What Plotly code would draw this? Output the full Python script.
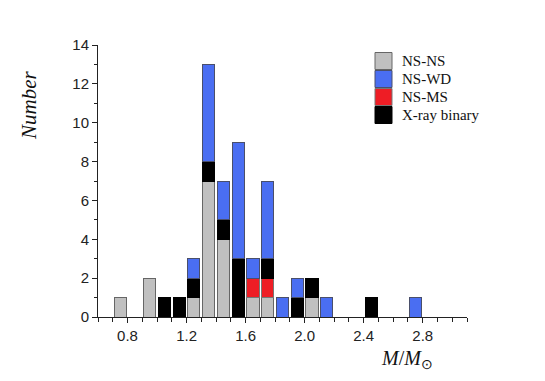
import plotly.graph_objects as go

# bin centres (M/Msun) and counts per class
bin_centers = [0.75, 0.95, 1.05, 1.15, 1.25, 1.35, 1.45, 1.55, 1.65, 1.75,
               1.85, 1.95, 2.05, 2.15, 2.45, 2.75]
ns_ns = [1, 2, 0, 0, 1, 7, 4, 0, 1, 1, 0, 0, 1, 0, 0, 0]
ns_ms = [0, 0, 0, 0, 0, 0, 0, 0, 1, 1, 0, 0, 0, 0, 0, 0]
xray = [0, 0, 1, 1, 1, 1, 1, 3, 0, 1, 0, 1, 1, 0, 1, 0]
ns_wd = [0, 0, 0, 0, 1, 5, 2, 6, 1, 4, 1, 1, 0, 1, 0, 1]

legend_labels = ['NS-NS', 'NS-WD', 'NS-MS', 'X-ray binary']

colors = {
    'NS-NS': '#c0c0c0',
    'NS-WD': '#4a6ef2',
    'NS-MS': '#ee1d25',
    'X-ray binary': '#000000',
}
outline = {
    'NS-NS': '#666666',
    'NS-WD': '#4a4f6a',
    'NS-MS': '#777777',
    'X-ray binary': '#000000',
}

# page body adds ~8px offset, so plot area is placed in window pixels
OFF = 8
W, H = 545, 381
X0, X1, Y0, Y1 = 98, 467, 45, 317  # plot area in window pixels
L, T = X0 - OFF, Y0 - OFF
R, B = W - X1 + OFF, H - Y1 + OFF


def px(x):
    return (x - X0) / (X1 - X0)


def py(y):
    return (Y1 - y) / (Y1 - Y0)


fig = go.Figure()

# stacking order bottom -> top: gray, red, black, blue
for name, vals in [('NS-NS', ns_ns), ('NS-MS', ns_ms),
                   ('X-ray binary', xray), ('NS-WD', ns_wd)]:
    fig.add_trace(go.Bar(
        x=bin_centers,
        y=[v if v else None for v in vals],
        width=0.082,
        name=name,
        marker=dict(color=colors[name], line=dict(color=outline[name], width=1)),
        showlegend=False,
    ))

# hand-made legend (larger square swatches than plotly's default)
shapes = []
annotations = []
for i, name in enumerate(legend_labels):
    yc = 61 + i * 18
    shapes.append(dict(
        type='rect', xref='paper', yref='paper',
        x0=px(375), x1=px(392), y0=py(yc + 8.5), y1=py(yc - 8.5),
        fillcolor=colors[name], line=dict(color=outline[name], width=1),
    ))
    annotations.append(dict(
        text=name, xref='paper', yref='paper', x=px(400), y=py(yc),
        xanchor='left', yanchor='middle', showarrow=False,
        font=dict(family='Liberation Serif', size=15, color='#111'),
    ))

annotations.append(dict(
    text='<i>Number</i>', xref='paper', yref='paper', x=px(29), y=py(106),
    textangle=-90, xanchor='center', yanchor='middle', showarrow=False,
    font=dict(family='Liberation Serif', size=21, color='#111'),
))
annotations.append(dict(
    text='<i>M</i>/<i>M</i><sub>⊙</sub>', xref='paper', yref='paper',
    x=px(407), y=py(359), xanchor='center', yanchor='middle', showarrow=False,
    font=dict(family='Liberation Serif', size=20, color='#111'),
))

fig.update_layout(
    barmode='stack',
    width=W, height=H,
    margin=dict(l=L, r=R, t=T, b=B),
    paper_bgcolor='white',
    plot_bgcolor='white',
    shapes=shapes,
    annotations=annotations,
    font=dict(family='Liberation Sans', size=15, color='#222'),
    xaxis=dict(
        range=[0.6, 3.1],
        tick0=0.8, dtick=0.4, tickformat='.1f',
        ticks='outside', ticklen=5, tickcolor='#222',
        minor=dict(dtick=0.1, ticks='outside', ticklen=4, tickcolor='#222'),
        showline=True, linecolor='#222', linewidth=1,
        showgrid=False, zeroline=False,
    ),
    yaxis=dict(
        range=[0, 14],
        dtick=2,
        ticks='outside', ticklen=5, tickcolor='#222',
        minor=dict(dtick=1, ticks='outside', ticklen=3, tickcolor='#222'),
        showline=True, linecolor='#222', linewidth=1,
        showgrid=False, zeroline=False,
    ),
)

fig.write_html("out.html")
